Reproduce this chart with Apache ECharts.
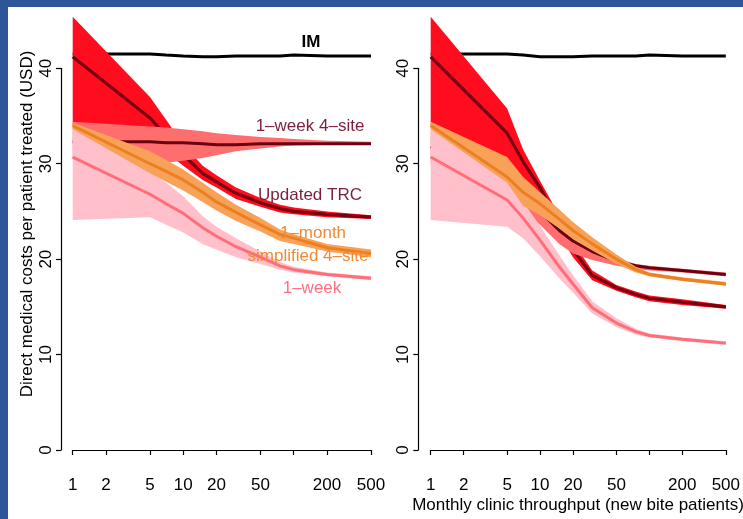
<!DOCTYPE html>
<html>
<head>
<meta charset="utf-8">
<script src="https://cdn.jsdelivr.net/npm/echarts@6/dist/echarts.min.js"></script>
<style>
html,body{margin:0;padding:0;background:#fff;}
#c{width:743px;height:519px;}
</style>
</head>
<body>
<div id="c"></div>
<script>
// Monthly clinic throughput (x values, log scale)
const xs = [1, 5, 7, 10, 15, 20, 30, 50, 75, 100, 200, 500];
const xTicks = [1, 2, 5, 10, 20, 50, 100, 200, 500];
const xTickLabels = [1, 2, 5, 10, 20, 50, 200, 500];
const yTicks = [0, 10, 20, 30, 40];

// ---- Left panel ----
const L_IM      = [41.5, 41.5, 41.4, 41.3, 41.2, 41.2, 41.3, 41.3, 41.3, 41.4, 41.3, 41.3];
const L_TRC     = [41.2, 34.8, 32.9, 30.9, 29.0, 28.1, 26.9, 25.9, 25.3, 25.0, 24.7, 24.4];
const L_TRC_hi  = [45.4, 37.0, 34.6, 32.0, 29.8, 28.8, 27.5, 26.4, 25.7, 25.4, 25.0, 24.6];
const L_TRC_lo  = [34.0, 32.6, 31.2, 29.8, 28.3, 27.5, 26.3, 25.5, 24.9, 24.7, 24.4, 24.2];
const L_W4      = [32.3, 32.3, 32.2, 32.2, 32.1, 32.0, 32.0, 32.1, 32.1, 32.1, 32.1, 32.1];
const L_W4_hi   = [34.4, 33.9, 33.8, 33.6, 33.4, 33.2, 33.0, 32.8, 32.7, 32.6, 32.4, 32.3];
const L_W4_lo   = [30.5, 30.1, 30.1, 30.3, 30.6, 30.9, 31.3, 31.6, 31.8, 31.9, 32.0, 32.0];
const L_W1      = [30.7, 26.8, 25.8, 24.8, 23.3, 22.4, 21.3, 20.2, 19.3, 18.9, 18.4, 18.0];
const L_W1_hi   = [33.8, 29.2, 28.0, 26.6, 24.5, 23.4, 22.2, 20.8, 19.7, 19.2, 18.6, 18.2];
const L_W1_lo   = [24.1, 24.4, 23.6, 22.8, 21.6, 21.0, 20.2, 19.5, 18.9, 18.6, 18.2, 17.8];
const L_M1      = [34.0, 30.0, 29.2, 28.3, 27.0, 26.0, 24.9, 23.6, 22.6, 22.2, 21.2, 20.6];
const L_M1_hi   = [34.3, 31.3, 30.4, 29.4, 28.0, 27.0, 25.7, 24.3, 23.1, 22.6, 21.6, 21.0];
const L_M1_lo   = [33.6, 29.0, 28.1, 27.2, 26.0, 25.1, 24.0, 22.9, 21.9, 21.6, 20.8, 20.2];

// ---- Right panel ----
const R_IM      = [41.5, 41.5, 41.4, 41.2, 41.2, 41.2, 41.3, 41.3, 41.3, 41.4, 41.3, 41.3];
const R_TRC     = [41.2, 33.2, 30.2, 27.5, 23.6, 21.0, 18.3, 17.0, 16.3, 15.9, 15.5, 15.0];
const R_TRC_hi  = [45.4, 35.8, 31.5, 28.2, 24.6, 21.8, 18.8, 17.3, 16.6, 16.2, 15.8, 15.2];
const R_TRC_lo  = [34.0, 30.5, 28.5, 26.3, 22.6, 20.2, 17.8, 16.7, 16.0, 15.6, 15.2, 14.8];
const R_W4      = [31.8, 28.8, 26.5, 25.0, 23.0, 21.9, 20.8, 19.8, 19.3, 19.1, 18.8, 18.4];
const R_W4_hi   = [33.5, 30.0, 27.6, 26.0, 23.8, 22.5, 21.2, 20.1, 19.5, 19.3, 19.0, 18.6];
const R_W4_lo   = [30.0, 27.5, 25.0, 23.6, 21.6, 20.6, 19.9, 19.3, 19.0, 18.8, 18.6, 18.2];
const R_W1      = [30.7, 26.2, 24.3, 22.0, 19.2, 17.4, 14.9, 13.3, 12.4, 12.0, 11.6, 11.2];
const R_W1_hi   = [33.8, 28.5, 26.0, 23.5, 20.4, 18.3, 15.6, 13.8, 12.7, 12.2, 11.8, 11.4];
const R_W1_lo   = [24.1, 23.4, 22.2, 20.3, 18.0, 16.5, 14.3, 12.9, 12.1, 11.8, 11.4, 11.0];
const R_M1      = [34.0, 28.6, 27.0, 25.8, 24.2, 23.0, 21.6, 20.0, 18.9, 18.4, 17.9, 17.4];
const R_M1_hi   = [34.4, 30.7, 28.6, 27.0, 25.2, 23.9, 22.3, 20.5, 19.2, 18.6, 18.1, 17.6];
const R_M1_lo   = [33.6, 28.0, 25.6, 24.6, 23.2, 22.1, 20.9, 19.5, 18.6, 18.2, 17.7, 17.2];

const FONT = 'Liberation Sans, Arial, Helvetica, sans-serif';
const FS = 17;
const C = {
  redBand: '#FF0D1F', trcLine: '#7A0010',
  w4Band: '#FF6E6E', w4Line: '#6A0010',
  w1Band: '#FFC0CB', w1Line: '#FF6D78',
  m1Band: '#F8A158', m1Line: '#EC8020',
  im: '#000000'
};

let zc = 2;
function pairs(arr) { return xs.map((x, i) => [x, arr[i]]); }

function lineSeries(g, arr, color, width) {
  return { type: 'line', z: zc++, xAxisIndex: g, yAxisIndex: g, data: pairs(arr), symbol: 'none',
    clip: false, silent: true, lineStyle: { color: color, width: width } };
}
// band polygon between lo and hi, drawn through the axis scales (api.coord)
function bandSeries(g, lo, hi, color) {
  const rows = xs.map((x, i) => [x, lo[i], hi[i]]);
  return {
    type: 'custom', z: zc++, xAxisIndex: g, yAxisIndex: g, silent: true, clip: false,
    data: [[xs[0], lo[0]]],
    encode: { x: 0, y: 1 },
    renderItem: function (params, api) {
      const top = rows.map(r => api.coord([r[0], r[2]]));
      const bot = rows.slice().reverse().map(r => api.coord([r[0], r[1]]));
      return { type: 'polygon', shape: { points: top.concat(bot) },
        style: { fill: color, stroke: null } };
    }
  };
}
function panel(g, IM, TRC, TRClo, TRChi, W4, W4lo, W4hi, W1, W1lo, W1hi, M1, M1lo, M1hi) {
  zc = 2;
  return [
    lineSeries(g, IM, C.im, 3),
    bandSeries(g, TRClo, TRChi, C.redBand), lineSeries(g, TRC, C.trcLine, 3.2),
    bandSeries(g, W4lo, W4hi, C.w4Band), lineSeries(g, W4, C.w4Line, 3),
    bandSeries(g, W1lo, W1hi, C.w1Band), lineSeries(g, W1, C.w1Line, 3),
    bandSeries(g, M1lo, M1hi, C.m1Band), lineSeries(g, M1, C.m1Line, 3)
  ];
}

function xAxisDef(g) {
  return {
    type: 'log', logBase: 10, gridIndex: g, min: 1, max: 500, offset: 18.3,
    axisLine: { show: true, lineStyle: { color: '#000', width: 1.2 } },
    axisTick: { show: true, length: 5, customValues: xTicks, lineStyle: { color: '#000', width: 1.2 } },
    axisLabel: { show: true, customValues: xTickLabels, margin: 9, color: '#000',
      fontSize: FS, fontFamily: FONT, formatter: v => String(Math.round(v)) },
    splitLine: { show: false }, minorTick: { show: false }
  };
}
function yAxisDef(g, off) {
  return {
    type: 'value', gridIndex: g, min: 0, max: 40, interval: 10, offset: off,
    axisLine: { show: true, lineStyle: { color: '#000', width: 1.2 } },
    axisTick: { show: true, length: 5, lineStyle: { color: '#000', width: 1.2 } },
    axisLabel: { show: true, rotate: 90, margin: 6, color: '#000', fontSize: FS, fontFamily: FONT },
    splitLine: { show: false }
  };
}

function txt(x, y, s, color, bold) {
  return { type: 'text', x: x, y: y, z: 100,
    style: { text: s, fill: color, font: (bold ? 'bold ' : '') + FS + 'px ' + FONT,
      textAlign: 'center', textVerticalAlign: 'middle' } };
}

const chart = echarts.init(document.getElementById('c'), null, { renderer: 'canvas' });
chart.setOption({
  animation: false,
  backgroundColor: '#ffffff',
  grid: [
    { left: 72.7, top: 68.3, width: 298.3, height: 381.7 },
    { left: 430.7, top: 68.3, width: 297, height: 381.7 }
  ],
  xAxis: [xAxisDef(0), xAxisDef(1)],
  yAxis: [yAxisDef(0, 11.7), yAxisDef(1, 12.4)],
  series: [].concat(
    panel(0, L_IM, L_TRC, L_TRC_lo, L_TRC_hi, L_W4, L_W4_lo, L_W4_hi, L_W1, L_W1_lo, L_W1_hi, L_M1, L_M1_lo, L_M1_hi),
    panel(1, R_IM, R_TRC, R_TRC_lo, R_TRC_hi, R_W4, R_W4_lo, R_W4_hi, R_W1, R_W1_lo, R_W1_hi, R_M1, R_M1_lo, R_M1_hi)
  ),
  graphic: [
    { type: 'rect', z: 200, shape: { x: 0, y: 0, width: 743, height: 7 }, style: { fill: '#2E5597' } },
    { type: 'rect', z: 200, shape: { x: 0, y: 0, width: 8, height: 519 }, style: { fill: '#2E5597' } },
    { type: 'text', x: 27, y: 224, rotation: Math.PI / 2, z: 100,
      style: { text: 'Direct medical costs per patient treated (USD)', fill: '#000', font: FS + 'px ' + FONT,
        textAlign: 'center', textVerticalAlign: 'middle' } },
    txt(578, 505, 'Monthly clinic throughput (new bite patients)', '#000', false),
    txt(311, 42, 'IM', '#000', true),
    txt(310, 126, '1\u2013week 4\u2013site', '#7D1E3A', false),
    txt(310, 195, 'Updated TRC', '#7D1E3A', false),
    txt(313, 233, '1\u2013month', '#F08A35', false),
    txt(308, 256, 'simplified 4\u2013site', '#F08A35', false),
    txt(312, 288, '1\u2013week', '#FF6F80', false)
  ]
});
</script>
</body>
</html>
